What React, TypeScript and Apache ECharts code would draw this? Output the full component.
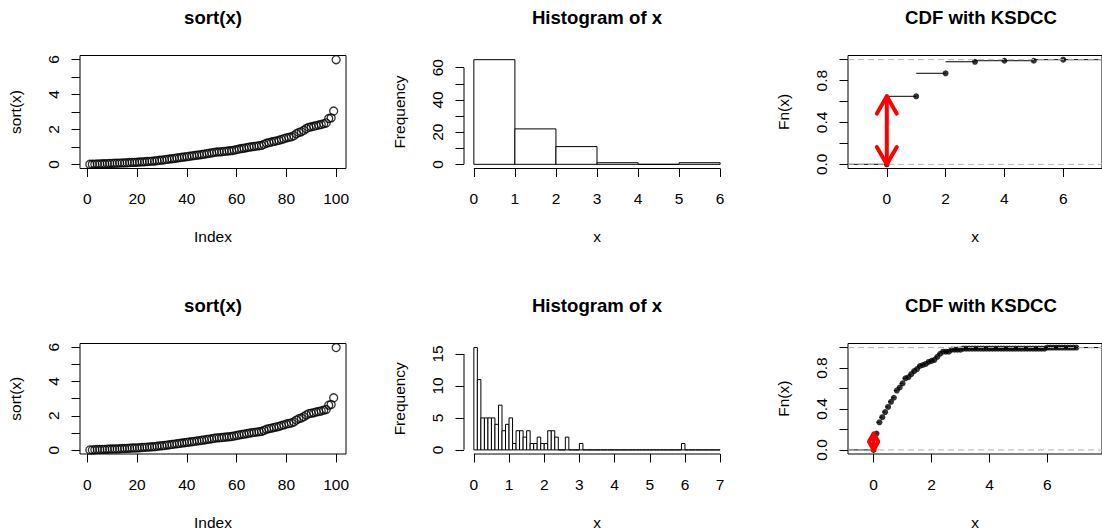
import React, { useEffect, useRef } from "react";
import * as echarts from "echarts";

// ---------------- data ----------------
const sortedX = [
  0.01, 0.01, 0.02, 0.03, 0.03, 0.04, 0.04, 0.05, 0.06, 0.06, 0.07, 0.07, 0.08, 0.09, 0.09, 0.1,
  0.11, 0.12, 0.12, 0.13, 0.14, 0.15, 0.16, 0.17, 0.18, 0.19, 0.2,
  0.22, 0.24, 0.25, 0.27, 0.29,
  0.31, 0.33, 0.35, 0.37, 0.39,
  0.41, 0.43, 0.45, 0.47, 0.49,
  0.51, 0.53, 0.55, 0.57, 0.59,
  0.62, 0.64, 0.66, 0.69,
  0.71, 0.72, 0.73, 0.75, 0.76, 0.78, 0.79,
  0.82, 0.85, 0.88,
  0.91, 0.93, 0.96, 0.99,
  1.01, 1.03, 1.05, 1.07, 1.09,
  1.15,
  1.22, 1.25, 1.28,
  1.32, 1.35, 1.38,
  1.43, 1.47,
  1.52, 1.55, 1.58,
  1.64,
  1.75,
  1.83, 1.87,
  1.95,
  2.05,
  2.12, 2.15, 2.18,
  2.22, 2.25, 2.28,
  2.33, 2.37,
  2.62, 2.66,
  3.05,
  5.98,
];
const indexTicks = [0, 20, 40, 60, 80, 100];
const sortYTicks = [0, 1, 2, 3, 4, 5, 6];
const sortYLabels = [0, 2, 4, 6];

const topHistBreaks = [0, 1, 2, 3, 4, 5, 6];
const topHistCounts = [65, 22, 11, 1, 0, 1];
const topHistXTicks = [0, 1, 2, 3, 4, 5, 6];
const topHistYTicks = [0, 10, 20, 30, 40, 50, 60];
const topHistYLabels = [0, 20, 40, 60];

const bottomHistStart = 0;
const bottomHistBinWidth = 0.1;
const bottomHistCounts = [
  16, 11, 5, 5, 5, 5, 4, 7, 3, 4,
  5, 1, 3, 3, 2, 3, 1, 1, 2, 1,
  1, 3, 3, 2, 0, 0, 2, 0, 0, 0,
  1, 0, 0, 0, 0, 0, 0, 0, 0, 0,
  0, 0, 0, 0, 0, 0, 0, 0, 0, 0,
  0, 0, 0, 0, 0, 0, 0, 0, 0, 1,
  0, 0, 0, 0, 0, 0, 0, 0, 0, 0,
];
const bottomHistXTicks = [0, 1, 2, 3, 4, 5, 6, 7];
const bottomHistYTicks = [0, 5, 10, 15];

const cdfYTicks = [0, 0.2, 0.4, 0.6, 0.8, 1];
const cdfYLabels = [0, 0.4, 0.8];
const cdfXTicks = [0, 2, 4, 6];
const cdfRefLines = [0, 1];
const sampleSize = 100;

const panelTitles = ["sort(x)", "Histogram of x", "CDF with KSDCC"];

// ---------------- layout / style ----------------
const FONT = "'Liberation Sans', Arial, Helvetica, sans-serif";
const LABEL = 15.5;
const TITLE = 18.6;
const colLeft = [80, 464, 848];
const rowTop = [55.5, 343.5];
const plotW = 266;
const plotH = 113;

function rRange(lo: number, hi: number): [number, number] {
  const d = (hi - lo) * 0.04;
  return [lo - d, hi + d];
}

function cumulative(counts: number[]) {
  let s = 0;
  return [0, ...counts.map((c) => (s += c) / sampleSize)];
}

const bottomHistBreaks = Array.from(
  { length: bottomHistCounts.length + 1 },
  (_, i) => +(bottomHistStart + i * bottomHistBinWidth).toFixed(2)
);

function valueAxis(o: any) {
  return {
    type: "value",
    gridIndex: o.gridIndex,
    min: o.min,
    max: o.max,
    axisLine: { show: false, onZero: false },
    splitLine: { show: false },
    axisTick: {
      show: true,
      length: 8.5,
      customValues: o.ticks,
      lineStyle: { color: "#000", width: 1 },
    },
    axisLabel: {
      show: true,
      customValues: o.labels,
      margin: o.vertical ? 19 : 22,
      fontSize: LABEL,
      fontFamily: FONT,
      color: "#000",
      rotate: o.vertical ? 90 : 0,
      formatter: o.fmt || ((v: number) => String(v)),
    },
    name: o.name,
    nameLocation: "middle",
    nameGap: o.vertical ? 57 : 60,
    nameRotate: o.vertical ? 90 : 0,
    nameTextStyle: { fontSize: LABEL, fontFamily: FONT, color: "#000" },
  };
}

function buildOption() {
  const grids: any[] = [];
  const xAxes: any[] = [];
  const yAxes: any[] = [];
  const series: any[] = [];
  const graphics: any[] = [];

  const hists = [
    { breaks: topHistBreaks, counts: topHistCounts, xt: topHistXTicks, yt: topHistYTicks, yl: topHistYLabels },
    { breaks: bottomHistBreaks, counts: bottomHistCounts, xt: bottomHistXTicks, yt: bottomHistYTicks, yl: bottomHistYTicks },
  ];

  for (let row = 0; row < 2; row++) {
    const h = hists[row];
    for (let col = 0; col < 3; col++) {
      const g = row * 3 + col;
      grids.push({
        left: colLeft[col],
        top: rowTop[row],
        width: plotW,
        height: plotH,
        show: col !== 1,
        borderColor: "#000",
        borderWidth: 1,
        backgroundColor: "transparent",
      });
      graphics.push({
        type: "text",
        x: colLeft[col] + plotW / 2,
        y: rowTop[row] - 38,
        style: {
          text: panelTitles[col],
          fill: "#000",
          font: `bold ${TITLE}px ${FONT}`,
          textAlign: "center",
          textVerticalAlign: "middle",
        },
      });

      if (col === 0) {
        const xr = rRange(1, sortedX.length);
        const yr = rRange(Math.min(...sortedX), Math.max(...sortedX));
        xAxes.push(valueAxis({ gridIndex: g, min: xr[0], max: xr[1], ticks: indexTicks, labels: indexTicks, name: "Index" }));
        yAxes.push(valueAxis({ gridIndex: g, min: yr[0], max: yr[1], ticks: sortYTicks, labels: sortYLabels, name: "sort(x)", vertical: true }));
        series.push({
          type: "scatter",
          xAxisIndex: g,
          yAxisIndex: g,
          data: sortedX.map((v, i) => [i + 1, v]),
          symbol: "circle",
          symbolSize: 8,
          itemStyle: { color: "rgba(0,0,0,0)", borderColor: "#000", borderWidth: 1.3 },
          silent: true,
        });
      } else if (col === 1) {
        const xr = rRange(h.breaks[0], h.breaks[h.breaks.length - 1]);
        const yr = rRange(0, Math.max(...h.counts));
        xAxes.push(valueAxis({ gridIndex: g, min: xr[0], max: xr[1], ticks: h.xt, labels: h.xt, name: "x" }));
        yAxes.push(valueAxis({ gridIndex: g, min: yr[0], max: yr[1], ticks: h.yt, labels: h.yl, name: "Frequency", vertical: true }));
        series.push({
          type: "custom",
          xAxisIndex: g,
          yAxisIndex: g,
          clip: false,
          silent: true,
          data: h.counts.map((c, i) => [h.breaks[i], h.breaks[i + 1], c]),
          encode: { x: [0, 1], y: 2 },
          renderItem: (_p: any, api: any) => {
            const a = api.coord([api.value(0), api.value(2)]);
            const b = api.coord([api.value(1), 0]);
            return {
              type: "rect",
              shape: { x: a[0], y: a[1], width: b[0] - a[0], height: b[1] - a[1] },
              style: { fill: "#fff", stroke: "#000", lineWidth: 1 },
            };
          },
        });
        // axis lines spanning first to last tick (R style)
        series.push({
          type: "line",
          xAxisIndex: g,
          yAxisIndex: g,
          clip: false,
          silent: true,
          symbol: "none",
          lineStyle: { color: "#000", width: 1 },
          data: [
            [h.xt[0], yr[0]],
            [h.xt[h.xt.length - 1], yr[0]],
          ],
        });
        series.push({
          type: "line",
          xAxisIndex: g,
          yAxisIndex: g,
          clip: false,
          silent: true,
          symbol: "none",
          lineStyle: { color: "#000", width: 1 },
          data: [
            [xr[0], h.yt[0]],
            [xr[0], h.yt[h.yt.length - 1]],
          ],
        });
      } else {
        const knots = h.breaks;
        const vals = cumulative(h.counts);
        const diffs = knots.slice(1).map((k, i) => k - knots[i]).sort((a, b) => a - b);
        const med = diffs[Math.floor(diffs.length / 2)];
        const span = knots[knots.length - 1] - knots[0];
        const dr = Math.max(0.08 * span, med);
        const xr = rRange(knots[0] - dr, knots[knots.length - 1] + dr);
        const yr = rRange(0, 1);
        xAxes.push(valueAxis({ gridIndex: g, min: xr[0], max: xr[1], ticks: cdfXTicks, labels: cdfXTicks, name: "x" }));
        yAxes.push(valueAxis({
          gridIndex: g, min: yr[0], max: yr[1], ticks: cdfYTicks, labels: cdfYLabels, name: "Fn(x)", vertical: true,
          fmt: (v: number) => v.toFixed(1),
        }));
        // horizontal step segments (no verticals)
        const segs: number[][] = [];
        for (let j = 0; j < knots.length; j++) {
          segs.push([j === 0 ? xr[0] - dr : knots[j - 1], knots[j], vals[j]]);
        }
        segs.push([knots[knots.length - 1], xr[1] + dr, vals[vals.length - 1]]);
        series.push({
          type: "custom",
          xAxisIndex: g,
          yAxisIndex: g,
          clip: true,
          silent: true,
          z: 2,
          data: segs,
          encode: { x: [0, 1], y: 2 },
          renderItem: (_p: any, api: any) => {
            const a = api.coord([api.value(0), api.value(2)]);
            const b = api.coord([api.value(1), api.value(2)]);
            return {
              type: "line",
              shape: { x1: a[0], y1: a[1], x2: b[0], y2: b[1] },
              style: { stroke: "#000", lineWidth: 1 },
            };
          },
        });
        series.push({
          type: "scatter",
          xAxisIndex: g,
          yAxisIndex: g,
          z: 3,
          silent: true,
          symbol: "circle",
          symbolSize: 6,
          itemStyle: { color: "#000" },
          data: knots.map((k, i) => [k, vals[i]]),
        });
        // gray dashed reference lines at 0 and 1
        series.push({
          type: "custom",
          xAxisIndex: g,
          yAxisIndex: g,
          clip: true,
          silent: true,
          z: 4,
          data: cdfRefLines.map((y) => [xr[0], y]),
          encode: { x: 0, y: 1 },
          renderItem: (p: any, api: any) => {
            const cs = p.coordSys;
            const y = api.coord([api.value(0), api.value(1)])[1];
            return {
              type: "line",
              shape: { x1: cs.x, y1: y, x2: cs.x + cs.width, y2: y },
              style: { stroke: "#b3b3b3", lineWidth: 1, lineDash: [6, 4] },
            };
          },
        });
        // KS arrow: largest jump
        let bi = 0;
        for (let i = 0; i < vals.length - 1; i++) {
          if (vals[i + 1] - vals[i] > vals[bi + 1] - vals[bi]) bi = i;
        }
        series.push({
          type: "custom",
          xAxisIndex: g,
          yAxisIndex: g,
          clip: false,
          silent: true,
          z: 5,
          data: [[knots[bi], vals[bi], vals[bi + 1]]],
          encode: { x: 0, y: [1, 2] },
          renderItem: (_p: any, api: any) => {
            const a = api.coord([api.value(0), api.value(1)]);
            const b = api.coord([api.value(0), api.value(2)]);
            const len = Math.hypot(b[0] - a[0], b[1] - a[1]) || 1;
            const L = Math.min(20, len * 0.55);
            const ang = Math.PI / 6;
            const style = { stroke: "#ff0000", lineWidth: 4, lineCap: "round", lineJoin: "round", fill: "none" };
            const head = (tip: number[], from: number[]) => {
              const bx = (from[0] - tip[0]) / len;
              const by = (from[1] - tip[1]) / len;
              const r = (t: number) => [
                tip[0] + L * (bx * Math.cos(t) - by * Math.sin(t)),
                tip[1] + L * (bx * Math.sin(t) + by * Math.cos(t)),
              ];
              return { type: "polyline", shape: { points: [r(ang), tip, r(-ang)] }, style };
            };
            return {
              type: "group",
              children: [
                { type: "line", shape: { x1: a[0], y1: a[1], x2: b[0], y2: b[1] }, style },
                head(b, a),
                head(a, b),
              ],
            };
          },
        });
      }
    }
  }

  return {
    animation: false,
    backgroundColor: "#fff",
    textStyle: { fontFamily: FONT },
    grid: grids,
    xAxis: xAxes,
    yAxis: yAxes,
    series,
    graphic: graphics,
  };
}

export default function App() {
  const ref = useRef<HTMLDivElement>(null);
  useEffect(() => {
    if (!ref.current) return;
    const chart = echarts.init(ref.current, null, { renderer: "svg" });
    chart.setOption(buildOption() as any);
    return () => chart.dispose();
  }, []);
  return (
    <div
      ref={ref}
      style={{ position: "fixed", left: 0, top: 0, width: 1102, height: 531, background: "#fff" }}
    />
  );
}
